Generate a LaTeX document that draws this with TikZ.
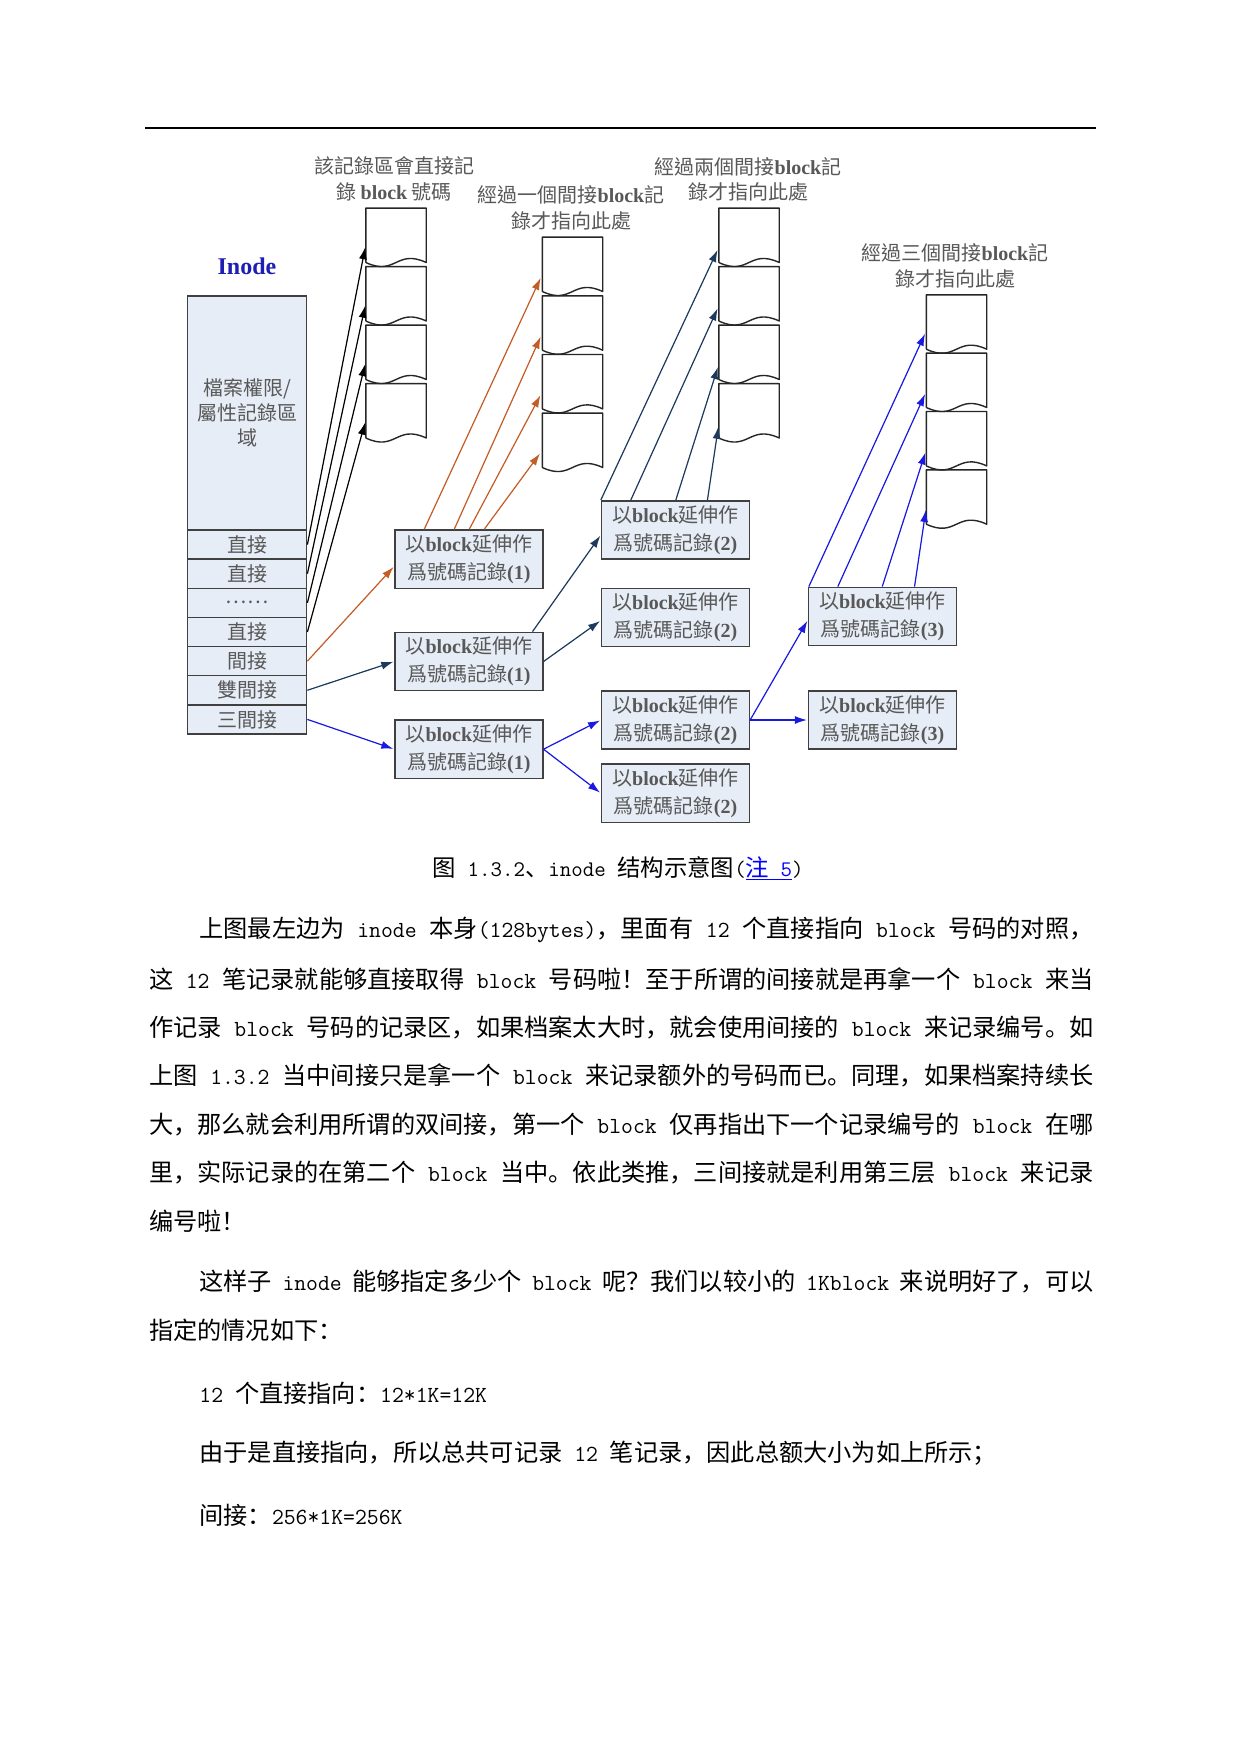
\documentclass[tikz,border=0pt]{standalone}
\usepackage{fontspec}
\setmainfont{Liberation Serif}
\setmonofont[Scale=0.9524]{Latin Modern Mono}
\newfontfamily\zhtc{Noto Sans CJK TC}
\newfontfamily\zhsc{Noto Sans CJK SC}
\usetikzlibrary{arrows.meta,calc}
\definecolor{cellfill}{RGB}{231,237,246}
\definecolor{boxborder}{RGB}{64,64,64}
\definecolor{textgray}{RGB}{88,88,88}
\definecolor{orangec}{RGB}{196,92,38}
\definecolor{navyc}{RGB}{28,58,94}
\definecolor{bluec}{RGB}{25,25,225}
\definecolor{inodeblue}{RGB}{30,30,180}
\definecolor{linkblue}{RGB}{0,0,255}
\newcommand\bk[1]{{\rmfamily\bfseries #1}}
\newcommand\Lm[1]{{\ttfamily #1}}
\newcommand\jline[2]{\hbox to #1pt{\spaceskip=.5em plus 1fil minus .25em #2}}
\newcommand\docblk[3]{%
  \node[blk] (#1) at (#2+30,#3+27) {};
  \draw[blkline] (#1.south west) -- (#1.north west) -- (#1.north east) -- (#1.south east)
    .. controls +(-30,-14) and +(30,14) .. (#1.south west);}
\tikzset{
  cell/.style={draw=boxborder, line width=1.4pt, fill=cellfill, minimum width=119.2pt,
    minimum height=29.14pt, inner sep=0pt, text=textgray, align=center,
    font=\zhtc\fontsize{20}{25}\selectfont},
  recbox/.style={draw=boxborder, line width=1.6pt, fill=cellfill, minimum width=147.7pt,
    minimum height=58.3pt, inner sep=0pt, text=textgray, align=center,
    font=\zhtc\fontsize{20}{28}\selectfont},
  hdr/.style={inner sep=0pt, text=textgray, align=center, font=\zhtc\fontsize{20}{25.5}\selectfont},
  blk/.style={minimum width=60pt, minimum height=54pt, inner sep=0pt, draw=none},
  blkline/.style={draw=black!85, line width=1.4pt, line join=round},
  conn/.style={line width=1.2pt, -{Latex[length=12pt,width=8pt]}},
  blkarrow/.style={conn, draw=black, fill=black},
  orarrow/.style={conn, draw=orangec, fill=orangec},
  navyarrow/.style={conn, draw=navyc, fill=navyc},
  bluearrow/.style={conn, draw=bluec, fill=bluec},
  body/.style={anchor=west, inner sep=0pt, font=\zhsc\fontsize{24.2}{29}\selectfont},
}
\begin{document}
\begin{tikzpicture}[x=1pt,y=-1pt]
\fill[white] (0,0) rectangle (1241,1754);
\path[use as bounding box] (0,0) rectangle (1241,1754);
% top rule
\coordinate (ruleL) at (145,127.7);
\coordinate (ruleR) at (1095.5,127.7);
\draw[line width=2.2pt] (ruleL) -- (ruleR);

% headers
\node[font=\rmfamily\bfseries\fontsize{24}{28}\selectfont, text=inodeblue, inner sep=0pt] (title) at (247,266) {Inode};
\node[hdr] (h1) at (394,179) {該記錄區會直接記\\錄 \bk{block} 號碼};
\node[hdr] (h2) at (571,208) {經過一個間接\bk{block}記\\錄才指向此處};
\node[hdr] (h3) at (748,179.5) {經過兩個間接\bk{block}記\\錄才指向此處};
\node[hdr] (h4) at (955,266) {經過三個間接\bk{block}記\\錄才指向此處};

% inode table
\node[cell, minimum height=234pt] (attr) at (247.1,413) {檔案權限/\\屬性記錄區\\域};
\node[cell] (r1) at (247.1,544.57) {直接};
\node[cell] (r2) at (247.1,573.71) {直接};
\node[cell] (r3) at (247.1,602.85) {……};
\node[cell] (r4) at (247.1,631.99) {直接};
\node[cell] (r5) at (247.1,661.13) {間接};
\node[cell] (r6) at (247.1,690.27) {雙間接};
\node[cell] (r7) at (247.1,719.41) {三間接};

% data blocks
\docblk{b11}{366}{208.3}
\docblk{b12}{366}{266.8}
\docblk{b13}{366}{325.3}
\docblk{b14}{366}{383.8}
\docblk{b21}{542.5}{237.3}
\docblk{b22}{542.5}{296}
\docblk{b23}{542.5}{354.7}
\docblk{b24}{542.5}{413.3}
\docblk{b31}{719}{208.3}
\docblk{b32}{719}{266.8}
\docblk{b33}{719}{325.3}
\docblk{b34}{719}{383.8}
\docblk{b41}{926.5}{295}
\docblk{b42}{926.5}{353.3}
\docblk{b43}{926.5}{411.7}
\docblk{b44}{926.5}{470}

% record boxes
\node[recbox] (A1) at (468.9,559.2) {以\bk{block}延伸作\\爲號碼記錄\bk{(1)}};
\node[recbox] (B1) at (468.9,661.5) {以\bk{block}延伸作\\爲號碼記錄\bk{(1)}};
\node[recbox] (C1) at (468.9,749.2) {以\bk{block}延伸作\\爲號碼記錄\bk{(1)}};
\node[recbox] (D1) at (675.5,529.9) {以\bk{block}延伸作\\爲號碼記錄\bk{(2)}};
\node[recbox] (D2) at (675.5,617.5) {以\bk{block}延伸作\\爲號碼記錄\bk{(2)}};
\node[recbox] (D3) at (675.5,720) {以\bk{block}延伸作\\爲號碼記錄\bk{(2)}};
\node[recbox] (D4) at (675.5,793.2) {以\bk{block}延伸作\\爲號碼記錄\bk{(2)}};
\node[recbox] (E1) at (882.5,616.5) {以\bk{block}延伸作\\爲號碼記錄\bk{(3)}};
\node[recbox] (E2) at (882.5,720) {以\bk{block}延伸作\\爲號碼記錄\bk{(3)}};

% direct pointers
\draw[blkarrow, shorten >=3pt] (r1.east) -- ([yshift=-9pt]b11.west);
\draw[blkarrow, shorten >=3pt] (r2.east) -- ([yshift=-9pt]b12.west);
\draw[blkarrow, shorten >=3pt] (r3.east) -- ([yshift=-9pt]b13.west);
\draw[blkarrow, shorten >=3pt] (r4.east) -- ([yshift=-9pt]b14.west);

% single indirect
\draw[orarrow, shorten >=1pt] (r5.east) -- ([yshift=-7pt]A1.west);
\draw[orarrow, shorten >=4pt] ([xshift=30pt]A1.north west) -- ([yshift=-10pt]b21.west);
\draw[orarrow, shorten >=4pt] ([xshift=60pt]A1.north west) -- ([yshift=-10pt]b22.west);
\draw[orarrow, shorten >=4pt] ([xshift=75pt]A1.north west) -- ([yshift=-10pt]b23.west);
\draw[orarrow, shorten >=4pt] ([xshift=90pt]A1.north west) -- ([yshift=-10pt]b24.west);

% double indirect
\draw[navyarrow, shorten >=1pt] (r6.east) -- (B1.west);
\draw[navyarrow, shorten >=1pt] ([xshift=-11pt]B1.north east) -- ([yshift=-5pt]D1.west);
\draw[navyarrow, shorten >=1pt] (B1.east) -- ([yshift=-3pt]D2.west);
\draw[navyarrow, shorten >=3pt] (D1.north west) -- ([yshift=-12pt]b31.west);
\draw[navyarrow, shorten >=3pt] ([xshift=30pt]D1.north west) -- ([yshift=-12pt]b32.west);
\draw[navyarrow, shorten >=3pt] ([xshift=75pt]D1.north west) -- ([yshift=-12pt]b33.west);
\draw[navyarrow, shorten >=3pt] ([xshift=106.6pt]D1.north west) -- ([yshift=-13pt]b34.west);

% triple indirect
\draw[bluearrow, shorten >=1pt] (r7.east) -- (C1.west);
\draw[bluearrow, shorten >=1pt] (C1.east) -- (D3.west);
\draw[bluearrow, shorten >=1pt] (C1.east) -- (D4.west);
\draw[bluearrow, shorten >=1pt] (D3.east) -- ([yshift=-3.5pt]E1.west);
\draw[bluearrow, shorten >=1pt] (D3.east) -- (E2.west);
\draw[bluearrow, shorten >=3pt] ([xshift=1pt]E1.north west) -- ([yshift=-9pt]b41.west);
\draw[bluearrow, shorten >=3pt] ([xshift=30pt]E1.north west) -- ([yshift=-11pt]b42.west);
\draw[bluearrow, shorten >=3pt] ([xshift=74.4pt]E1.north west) -- ([yshift=-11pt]b43.west);
\draw[bluearrow, shorten >=3pt] ([xshift=106.7pt]E1.north west) -- ([yshift=-10pt]b44.west);

% caption
\node[inner sep=0pt, font=\zhsc\fontsize{23.4}{28}\selectfont] (cap) at (618.2,868.4)
  {图\Lm{ 1.3.2}、\Lm{inode }结构示意图\Lm{(}\textcolor{linkblue}{\underline{注\Lm{ 5}}}\Lm{)}};

% body text
\node[body] (p1a) at (199.2,929.9) {\jline{894}{上图最左边为\Lm{ inode }本身\Lm{(128bytes)}，里面有\Lm{ 12 }个直接指向\Lm{ block }号码的对照，}};
\node[body] (p1b) at (148.8,979.1) {\jline{944.5}{这\Lm{ 12 }笔记录就能够直接取得\Lm{ block }号码啦！至于所谓的间接就是再拿一个\Lm{ block }来当}};
\node[body] (p1c) at (148.8,1027.3) {\jline{944.5}{作记录\Lm{ block }号码的记录区，如果档案太大时，就会使用间接的\Lm{ block }来记录编号。如}};
\node[body] (p1d) at (148.8,1075.4) {\jline{944.5}{上图\Lm{ 1.3.2 }当中间接只是拿一个\Lm{ block }来记录额外的号码而已。同理，如果档案持续长}};
\node[body] (p1e) at (148.8,1124.6) {\jline{944.5}{大，那么就会利用所谓的双间接，第一个\Lm{ block }仅再指出下一个记录编号的\Lm{ block }在哪}};
\node[body] (p1f) at (148.8,1172.7) {\jline{944.5}{里，实际记录的在第二个\Lm{ block }当中。依此类推，三间接就是利用第三层\Lm{ block }来记录}};
\node[body] (p1g) at (148.8,1220.8) {编号啦！};
\node[body] (p2a) at (199.2,1281.3) {\jline{894}{这样子\Lm{ inode }能够指定多少个\Lm{ block }呢？我们以较小的\Lm{ 1Kblock }来说明好了，可以}};
\node[body] (p2b) at (148.8,1330.5) {指定的情况如下：};
\node[body] (p3) at (199.2,1393.2) {\Lm{12 }个直接指向：\Lm{12*1K=12K}};
\node[body] (p4) at (199.2,1453.6) {由于是直接指向，所以总共可记录\Lm{ 12 }笔记录，因此总额大小为如上所示；};
\node[body] (p5) at (199.2,1515.1) {间接：\Lm{256*1K=256K}};
\end{tikzpicture}
\end{document}
